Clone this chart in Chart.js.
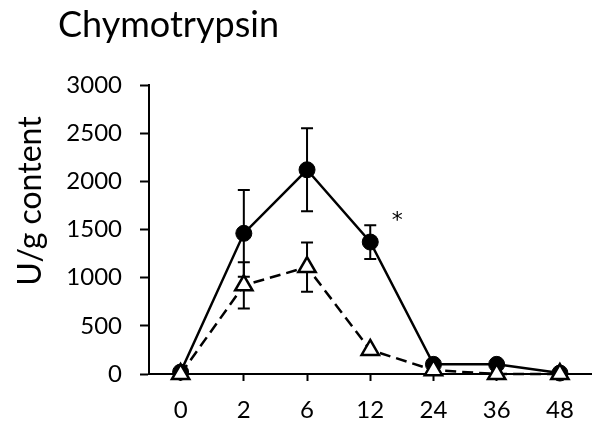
<!DOCTYPE html>
<html>
<head>
<meta charset="utf-8">
<script src="https://cdn.jsdelivr.net/npm/chart.js@4/dist/chart.umd.min.js"></script>
<style>
  html, body { margin: 0; padding: 0; background: #fff; }
  #wrap { width: 604px; height: 427px; }
</style>
</head>
<body>
<div id="wrap"><canvas id="grafico"></canvas></div>
<script>
var hours = ['0', '2', '6', '12', '24', '36', '48'];
var circleValues = [20, 1460, 2120, 1370, 100, 100, 10];
var circleErrors = [0, 450, 430, 175, 0, 30, 0];
var triangleValues = [0, 920, 1110, 250, 40, 0, 0];
var triangleErrors = [0, 240, 255, 0, 0, 0, 0];
var yTicks = [0, 500, 1000, 1500, 2000, 2500, 3000];
var starAt = { index: 3, value: 1630 }; // significance mark next to 12 h

var fontName = 'Lato, "Open Sans", sans-serif';

// error bars drawn behind the markers
var errorBars = {
  id: 'errorBars',
  beforeDatasetsDraw: function (chart) {
    var ctx = chart.ctx;
    var x = chart.scales.x;
    var y = chart.scales.y;
    var sets = [[circleValues, circleErrors], [triangleValues, triangleErrors]];
    ctx.save();
    ctx.strokeStyle = '#000';
    ctx.lineWidth = 2;
    sets.forEach(function (s) {
      for (var i = 0; i < s[0].length; i++) {
        if (!s[1][i]) continue;
        var px = x.getPixelForValue(i);
        var top = y.getPixelForValue(s[0][i] + s[1][i]);
        var bot = y.getPixelForValue(s[0][i] - s[1][i]);
        ctx.beginPath();
        ctx.moveTo(px, top); ctx.lineTo(px, bot);
        ctx.moveTo(px - 6, top); ctx.lineTo(px + 6, top);
        ctx.moveTo(px - 6, bot); ctx.lineTo(px + 6, bot);
        ctx.stroke();
      }
    });
    ctx.restore();
  }
};

var texts = {
  id: 'texts',
  afterDraw: function (chart) {
    var ctx = chart.ctx;
    ctx.save();
    ctx.fillStyle = '#000';
    ctx.font = '36px ' + fontName;
    ctx.textAlign = 'left';
    ctx.textBaseline = 'alphabetic';
    ctx.fillText('Chymotrypsin', 58, 37);

    ctx.font = '32px ' + fontName;
    ctx.translate(31, 201);
    ctx.rotate(-Math.PI / 2);
    ctx.textAlign = 'center';
    ctx.textBaseline = 'middle';
    ctx.fillText('U/g content', 0, 0);
    ctx.restore();

    ctx.save();
    ctx.fillStyle = '#000';
    ctx.font = '22px "DejaVu Sans", sans-serif';
    ctx.textAlign = 'center';
    ctx.textBaseline = 'middle';
    ctx.fillText('*', chart.scales.x.getPixelForValue(starAt.index) + 27,
      chart.scales.y.getPixelForValue(starAt.value) + 4);
    ctx.restore();
  }
};

var ctx = document.getElementById('grafico').getContext('2d');
var grafico = new Chart(ctx, {
  type: 'line',
  data: {
    labels: hours,
    datasets: [{
      label: 'triangles',
      data: triangleValues,
      order: 0,
      clip: false,
      borderColor: '#000',
      borderWidth: 2.5,
      borderDash: [11, 6],
      pointStyle: 'triangle',
      pointRadius: 10,
      pointBackgroundColor: '#fff',
      pointBorderColor: '#000',
      pointBorderWidth: 2.5,
      tension: 0
    }, {
      label: 'circles',
      data: circleValues,
      order: 1,
      clip: false,
      borderColor: '#000',
      borderWidth: 2.5,
      pointStyle: 'circle',
      pointRadius: 8,
      pointBackgroundColor: '#000',
      pointBorderColor: '#000',
      pointBorderWidth: 1,
      tension: 0
    }]
  },
  options: {
    responsive: true,
    maintainAspectRatio: false,
    animation: false,
    layout: { padding: { top: 85, right: 6, left: 0, bottom: 0 } },
    plugins: {
      legend: { display: false },
      tooltip: { enabled: false }
    },
    scales: {
      x: {
        offset: true,
        afterFit: function (s) { s.height = 53; },
        border: { color: '#000', width: 2 },
        grid: { display: true, drawOnChartArea: false, offset: false, tickLength: 7, tickColor: '#000', tickWidth: 2 },
        ticks: { color: '#000', padding: 15, font: { family: fontName, size: 24 } }
      },
      y: {
        min: 0,
        max: 3000,
        afterFit: function (s) { s.width = 149; },
        afterBuildTicks: function (s) { s.ticks = yTicks.map(function (v) { return { value: v }; }); },
        border: { color: '#000', width: 2 },
        grid: { display: true, drawOnChartArea: false, tickLength: 9, tickColor: '#000', tickWidth: 2 },
        ticks: {
          color: '#000', padding: 18, font: { family: fontName, size: 24 },
          callback: function (v) { return String(v); }
        }
      }
    }
  },
  plugins: [errorBars, texts]
});
</script>
</body>
</html>
